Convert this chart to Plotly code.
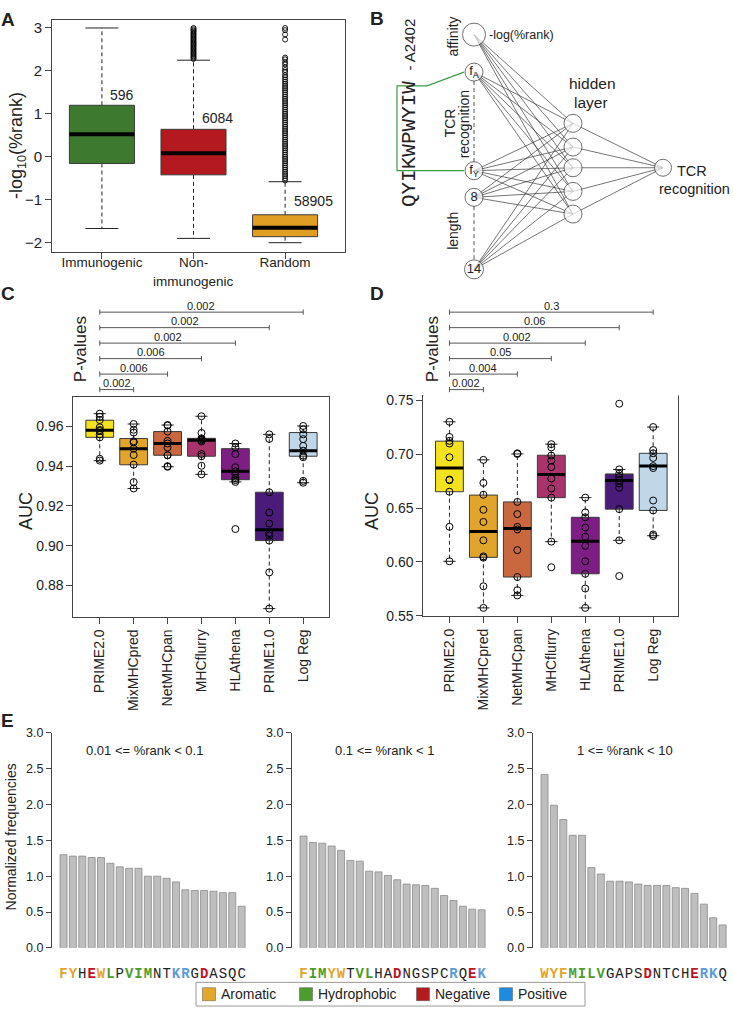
import plotly.graph_objects as go

W, H = 733, 1015
SANS = "Liberation Sans, Arial, Helvetica, sans-serif"
MONO = "Liberation Mono, Courier New, monospace"
INK = "#222222"

# ---------------- data ----------------
# A: -log10(%rank) of the three peptide sets
a_groups = ["Immunogenic", "Non-", "Random"]
a_counts = ["596", "6084", "58905"]
a_low = [-1.67, -1.90, -2.00]
a_q1 = [-0.155, -0.42, -1.86]
a_med = [0.527, 0.083, -1.655]
a_q3 = [1.20, 0.64, -1.35]
a_high = [3.00, 2.25, -0.58]
a_count_y = [1.445, 0.894, -1.035]
a_colors = ["#3D7A2F", "#B3191E", "#E09F24"]
a_out_nonimm = [2.28, 2.31, 2.34, 2.37, 2.40, 2.43, 2.46, 2.49, 2.52, 2.55, 2.58, 2.61, 2.64,
                2.67, 2.70, 2.73, 2.76, 2.79, 2.82, 2.85, 2.88, 2.91, 2.94, 2.97, 3.00]
a_out_random = [-0.55, -0.50, -0.45, -0.40, -0.35, -0.30, -0.25, -0.20, -0.15, -0.10, -0.05,
                0.00, 0.05, 0.10, 0.15, 0.20, 0.25, 0.30, 0.35, 0.40, 0.45, 0.50, 0.55, 0.60,
                0.65, 0.70, 0.75, 0.80, 0.85, 0.90, 0.95, 1.00, 1.05, 1.10, 1.15, 1.20, 1.25,
                1.30, 1.35, 1.40, 1.45, 1.50, 1.55, 1.60, 1.65, 1.70, 1.75, 1.80, 1.85, 1.90,
                1.97, 2.02, 2.08, 2.15, 2.20, 2.27, 2.31, 2.73, 2.85, 2.95, 3.00]

# C / D: AUC per method (10 folds each)
methods = ["PRIME2.0", "MixMHCpred", "NetMHCpan", "MHCflurry", "HLAthena", "PRIME1.0", "Log Reg"]
m_colors = ["#F3E21D", "#E1A52B", "#C9683E", "#A9346C", "#7E1E84", "#4A1B78", "#BFD7E8"]

c_low = [0.9428, 0.9288, 0.9397, 0.9359, 0.9321, 0.8684, 0.9317]
c_q1 = [0.9545, 0.9407, 0.9455, 0.9450, 0.9332, 0.9026, 0.9450]
c_med = [0.9580, 0.9488, 0.9514, 0.9530, 0.9374, 0.9081, 0.9478]
c_q3 = [0.9631, 0.9539, 0.9574, 0.9540, 0.9488, 0.9269, 0.9569]
c_high = [0.9664, 0.9612, 0.9607, 0.9651, 0.9514, 0.9560, 0.9602]
c_points = [
    [0.9664, 0.9648, 0.9632, 0.9595, 0.9582, 0.9577, 0.9560, 0.9545, 0.9437, 0.9428],
    [0.9612, 0.9583, 0.9569, 0.9525, 0.9519, 0.9488, 0.9456, 0.9408, 0.9320, 0.9288],
    [0.9607, 0.9604, 0.9574, 0.9527, 0.9514, 0.9494, 0.9455, 0.9455, 0.9400, 0.9397],
    [0.9651, 0.9567, 0.9540, 0.9535, 0.9530, 0.9524, 0.9461, 0.9450, 0.9402, 0.9359],
    [0.9514, 0.9494, 0.9461, 0.9395, 0.9374, 0.9359, 0.9340, 0.9330, 0.9321, 0.9084],
    [0.9560, 0.9537, 0.9269, 0.9167, 0.9111, 0.9064, 0.9051, 0.9026, 0.8866, 0.8684],
    [0.9602, 0.9585, 0.9560, 0.9536, 0.9502, 0.9478, 0.9453, 0.9445, 0.9326, 0.9317],
]
c_pvals = ["0.002", "0.006", "0.006", "0.002", "0.002", "0.002"]

d_low = [0.6005, 0.5572, 0.5688, 0.6188, 0.5572, 0.6200, 0.6243]
d_q1 = [0.6652, 0.6042, 0.5859, 0.6597, 0.5889, 0.6490, 0.6478]
d_med = [0.6872, 0.6283, 0.6310, 0.6811, 0.6191, 0.6756, 0.6890]
d_q3 = [0.7122, 0.6621, 0.6557, 0.6991, 0.6414, 0.6817, 0.7009]
d_high = [0.7302, 0.6948, 0.7003, 0.7094, 0.6597, 0.6859, 0.7253]
d_points = [
    [0.7302, 0.7161, 0.7125, 0.7100, 0.6972, 0.6765, 0.6759, 0.6652, 0.6326, 0.6005],
    [0.6948, 0.6734, 0.6624, 0.6484, 0.6371, 0.6200, 0.6051, 0.6039, 0.5773, 0.5572],
    [0.7009, 0.7003, 0.6557, 0.6444, 0.6325, 0.6301, 0.6109, 0.5859, 0.5737, 0.5688],
    [0.7094, 0.7064, 0.6988, 0.6942, 0.6881, 0.6774, 0.6682, 0.6597, 0.6188, 0.5950],
    [0.6597, 0.6460, 0.6414, 0.6319, 0.6234, 0.6149, 0.6005, 0.5889, 0.5752, 0.5572],
    [0.7470, 0.6859, 0.6820, 0.6789, 0.6759, 0.6728, 0.6689, 0.6490, 0.6200, 0.5868],
    [0.7253, 0.7039, 0.7009, 0.6966, 0.6890, 0.6872, 0.6570, 0.6478, 0.6255, 0.6240],
]
d_pvals = ["0.002", "0.004", "0.05", "0.002", "0.06", "0.3"]

# E: normalized amino-acid frequencies per %rank bin
e_titles = ["0.01 <= %rank < 0.1", "0.1 <= %rank < 1", "1 <= %rank < 10"]
e1_aa = list("FYHEWLPVIMNTKRGDASQC")
e1_freq = [1.30, 1.28, 1.28, 1.26, 1.26, 1.18, 1.13, 1.11, 1.11, 1.00,
           1.00, 0.97, 0.92, 0.81, 0.80, 0.80, 0.79, 0.77, 0.77, 0.58]
e2_aa = list("FIMYWTVLHADNGSPCRQEK")
e2_freq = [1.56, 1.47, 1.46, 1.42, 1.36, 1.22, 1.21, 1.07, 1.06, 1.01,
           0.95, 0.89, 0.88, 0.87, 0.83, 0.73, 0.66, 0.58, 0.54, 0.53]
e3_aa = list("WYFMILVGAPSDNTCHERKQ")
e3_freq = [2.42, 1.99, 1.79, 1.57, 1.57, 1.12, 1.03, 0.93, 0.93, 0.92,
           0.89, 0.87, 0.87, 0.87, 0.84, 0.83, 0.76, 0.61, 0.42, 0.32]

aa_classes = ["Aromatic", "Hydrophobic", "Negative", "Positive"]
aa_members = ["FWY", "ILMV", "DE", "KR"]
class_colors = ["#E3A82B", "#4E9B2E", "#B31B1E", "#1F8BE0"]
letter_colors = ["#E5A42A", "#4E9B2E", "#C0151F", "#5B9BDA"]


# ---------------- helpers ----------------
def px_x(a, b):
    return [a / W, b / W]


def px_y(top, bottom):
    return [1 - bottom / H, 1 - top / H]


fig = go.Figure()


def ptext(x, y, text, size, angle=0, family=SANS, xanchor="center"):
    fig.add_annotation(x=x / W, y=1 - y / H, xref="paper", yref="paper", text=text,
                       showarrow=False, textangle=angle, xanchor=xanchor, yanchor="middle",
                       font=dict(size=size, family=family, color=INK))


def add_box(xa, ya, pos, low, q1, med, q3, high, color, half, cap, med_w):
    common = dict(xaxis=xa, yaxis=ya, hoverinfo="skip", showlegend=False)
    fig.add_trace(go.Scatter(x=[pos, pos, None, pos, pos], y=[q3, high, None, q1, low],
                             mode="lines", line=dict(color=INK, width=1, dash="4px,3px"), **common))
    fig.add_trace(go.Scatter(x=[pos - cap, pos + cap, None, pos - cap, pos + cap],
                             y=[high, high, None, low, low],
                             mode="lines", line=dict(color=INK, width=1), **common))
    fig.add_trace(go.Scatter(x=[pos - half, pos + half, pos + half, pos - half, pos - half],
                             y=[q1, q1, q3, q3, q1], mode="lines", fill="toself",
                             fillcolor=color, line=dict(color="#3a3a3a", width=1), **common))
    fig.add_trace(go.Scatter(x=[pos - half, pos + half], y=[med, med], mode="lines",
                             line=dict(color="black", width=med_w), **common))


def add_pvals(xa, ya, pvals):
    xs, ys = [], []
    for k, p in enumerate(pvals, start=1):
        end = k + 1
        xs += [1, end, None, 1, 1, None, end, end, None]
        ys += [k, k, None, k - 0.17, k + 0.17, None, k - 0.17, k + 0.17, None]
        fig.add_annotation(x=(1 + end) / 2, y=k + 0.42, xref=xa, yref=ya, text=p,
                           showarrow=False, xanchor="center",
                           font=dict(size=11, color=INK))
    fig.add_trace(go.Scatter(x=xs, y=ys, mode="lines", line=dict(color="#555", width=1),
                             xaxis=xa, yaxis=ya, hoverinfo="skip", showlegend=False))


def aa_label(aa):
    for members, col in zip(aa_members, letter_colors):
        if aa in members:
            return f"<span style='color:{col}'><b>{aa}</b></span>"
    return aa


frame = dict(showline=True, linecolor="#444", linewidth=1, mirror=True, showgrid=False,
             zeroline=False, ticks="outside", tickcolor="#444", ticklen=6)
hidden = dict(visible=False, showgrid=False, zeroline=False)

# ---------------- A ----------------
for i in range(3):
    add_box("x", "y", i + 1, a_low[i], a_q1[i], a_med[i], a_q3[i], a_high[i],
            a_colors[i], 0.355, 0.18, 4)
for pos, vals in [(2, a_out_nonimm), (3, a_out_random)]:
    fig.add_trace(go.Scatter(x=[pos] * len(vals), y=vals, mode="markers",
                             marker=dict(symbol="circle-open", size=5, color="black",
                                         line=dict(width=0.9)),
                             xaxis="x", yaxis="y", hoverinfo="skip", showlegend=False))
for i, txt in enumerate(a_counts):
    fig.add_annotation(x=i + 1.07, y=a_count_y[i], xref="x", yref="y", text=txt,
                       showarrow=False, xanchor="left", font=dict(size=14, color=INK))
ptext(193, 278, "immunogenic", 13.5)

# ---------------- B (network diagram) ----------------
in_x, hid_x, out_x, out_y = 474, 573, 663, 163
in_y = [28, 66, 166, 193, 266]
in_lab = [" ", "f<sub>A</sub>", "f<sub>Y</sub>", "8", "14"]
in_size = [23, 18, 18, 18, 19]
hid_y = [118, 142, 163, 187, 210]

ex, ey = [], []
for yi in in_y:
    for yh in hid_y:
        ex += [in_x, hid_x, None]
        ey += [yi, yh, None]
for yh in hid_y:
    ex += [hid_x, out_x, None]
    ey += [yh, out_y, None]
bcommon = dict(xaxis="x2", yaxis="y2", hoverinfo="skip", showlegend=False)
fig.add_trace(go.Scatter(x=ex, y=ey, mode="lines", line=dict(color="#3a3a3a", width=0.7), **bcommon))
fig.add_trace(go.Scatter(x=[in_x, in_x, None, in_x, in_x], y=[75, 157, None, 202, 256],
                         mode="lines", line=dict(color="#555", width=1, dash="4px,3px"), **bcommon))
fig.add_trace(go.Scatter(x=[464, 427, 397, 397, 427, 464], y=[66, 80, 80, 166, 166, 166],
                         mode="lines", line=dict(color="#3E9B45", width=1.2), **bcommon))
fig.add_trace(go.Scatter(x=[in_x] * 5, y=in_y, mode="markers+text", text=in_lab,
                         textposition="middle center", textfont=dict(size=13, color=INK),
                         marker=dict(size=in_size, color="white", line=dict(color="#333", width=1)),
                         **bcommon))
fig.add_trace(go.Scatter(x=[hid_x] * 5 + [out_x], y=hid_y + [out_y], mode="markers",
                         marker=dict(size=[18] * 5 + [17], color="white",
                                     line=dict(color="#333", width=1)), **bcommon))


def btext(x, y, text, size, angle=0, family=SANS, xanchor="center"):
    fig.add_annotation(x=x, y=y, xref="x2", yref="y2", text=text, showarrow=False,
                       textangle=angle, xanchor=xanchor, yanchor="middle",
                       font=dict(size=size, family=family, color=INK))


btext(409, 139, "QYIKWPWYIW", 21, angle=-90, family=MONO)
btext(409, 38, "- A2402", 15, angle=-90)
btext(453, 30, "affinity", 14, angle=-90)
btext(450, 118, "TCR", 14, angle=-90)
btext(464, 119, "recognition", 14, angle=-90)
btext(453, 227, "length", 14, angle=-90)
btext(487, 28, "-log(%rank)", 12.5, xanchor="left")
btext(592, 78, "hidden", 15.5)
btext(591, 97, "layer", 15.5)
btext(692, 166, "TCR", 14.5)
btext(694, 185, "recognition", 14.5)

# ---------------- C and D ----------------
for xa, ya, lo, q1, me, q3, hi, pts in [
    ("x3", "y3", c_low, c_q1, c_med, c_q3, c_high, c_points),
    ("x5", "y5", d_low, d_q1, d_med, d_q3, d_high, d_points),
]:
    for i in range(7):
        add_box(xa, ya, i + 1, lo[i], q1[i], me[i], q3[i], hi[i], m_colors[i], 0.41, 0.18, 3)
    for i in range(7):
        fig.add_trace(go.Scatter(x=[i + 1] * len(pts[i]), y=pts[i], mode="markers",
                                 marker=dict(symbol="circle-open", size=7, color="black",
                                             line=dict(width=1)),
                                 xaxis=xa, yaxis=ya, hoverinfo="skip", showlegend=False))
add_pvals("x4", "y4", c_pvals)
add_pvals("x6", "y6", d_pvals)

# ---------------- E ----------------
e_sets = [(e1_aa, e1_freq), (e2_aa, e2_freq), (e3_aa, e3_freq)]
e_left = [52, 292, 533]
for j, (aa, freq) in enumerate(e_sets):
    n = j + 7
    fig.add_trace(go.Bar(x=list(range(len(aa))), y=freq, width=0.75,
                         marker=dict(color="#BEBEBE", line=dict(color="#8A8A8A", width=0.8)),
                         xaxis=f"x{n}", yaxis=f"y{n}", hoverinfo="skip", showlegend=False))
    ptext(e_left[j] + 92, 754, e_titles[j], 13)
    fig.update_layout({
        f"xaxis{n}": dict(domain=px_x(e_left[j], e_left[j] + 194), range=[-1.23, 19.47],
                          anchor=f"y{n}", showline=False, showgrid=False, zeroline=False,
                          tickvals=list(range(len(aa))), ticktext=[aa_label(a) for a in aa],
                          tickangle=0, ticks="outside", ticklen=12,
                          tickcolor="rgba(0,0,0,0)",
                          tickfont=dict(family=MONO, size=14, color=INK)),
        f"yaxis{n}": dict(domain=px_y(736, 954), range=[0, 3], anchor=f"x{n}",
                          showline=True, linecolor="#444", linewidth=1, showgrid=False,
                          zeroline=False, ticks="outside", ticklen=5, tickcolor="#444",
                          tickvals=[0, 0.5, 1, 1.5, 2, 2.5, 3], tickformat=".1f",
                          tickfont=dict(size=12.5, color=INK)),
    })

# legend for amino-acid classes
leg_x = [209, 306, 423, 506]
fig.add_trace(go.Scatter(x=leg_x, y=[1001] * 4, mode="markers",
                         marker=dict(symbol="square", size=13, color=class_colors,
                                     line=dict(color="#555", width=0.5)),
                         xaxis="x10", yaxis="y10", hoverinfo="skip", showlegend=False))
for xx, name in zip(leg_x, aa_classes):
    fig.add_annotation(x=xx + 10, y=1001, xref="x10", yref="y10", text=name, showarrow=False,
                       xanchor="left", font=dict(size=14, color=INK))
fig.add_shape(type="rect", x0=196, x1=585, y0=989, y1=1013, xref="x10", yref="y10",
              line=dict(color="#9A9A9A", width=1))

# ---------------- titles and panel letters ----------------
ptext(17, 141, "-log<sub>10</sub>(%rank)", 18, angle=-90)
ptext(26, 511, "AUC", 18, angle=-90)
ptext(372, 511, "AUC", 18, angle=-90)
ptext(80, 347, "P-values", 17, angle=-90)
ptext(432, 347, "P-values", 17, angle=-90)
ptext(11, 842, "Normalized frequencies", 14, angle=-90)
for letter, (lx, ly) in zip("ABCDE", [(8, 13), (377, 12), (8, 290), (377, 290), (7, 723)]):
    ptext(lx, ly, f"<b>{letter}</b>", 19)

fig.update_layout(
    width=W, height=H, autosize=False,
    margin=dict(l=0, r=0, t=0, b=0),
    paper_bgcolor="white", plot_bgcolor="white",
    showlegend=False,
    font=dict(family=SANS, color=INK, size=13),
    xaxis=dict(domain=px_x(52, 345), range=[0.455, 3.654], anchor="y",
               tickvals=[1, 2, 3], ticktext=a_groups, tickfont=dict(size=13.5),
               ticklabelstandoff=-8, **frame),
    yaxis=dict(domain=px_y(13, 248), range=[-2.207, 3.19], anchor="x",
               tickvals=[-2, -1, 0, 1, 2, 3], tickfont=dict(size=15), **frame),
    xaxis2=dict(domain=px_x(370, 733), range=[370, 733], anchor="y2", **hidden),
    yaxis2=dict(domain=px_y(0, 285), range=[285, 0], anchor="x2", **hidden),
    xaxis3=dict(domain=px_x(73.3, 329.3), range=[0.22, 7.77], anchor="y3",
                tickvals=list(range(1, 8)), ticktext=methods, tickangle=-90,
                tickfont=dict(size=14), **frame),
    yaxis3=dict(domain=px_y(395, 618.3), range=[0.8643, 0.975], anchor="x3",
                tickvals=[0.88, 0.90, 0.92, 0.94, 0.96], tickformat=".2f",
                tickfont=dict(size=14), **frame),
    xaxis4=dict(domain=px_x(73.3, 329.3), range=[0.22, 7.77], anchor="y4", **hidden),
    yaxis4=dict(domain=px_y(300, 395), range=[0.55, 6.6], anchor="x4", **hidden),
    xaxis5=dict(domain=px_x(423.3, 678.3), range=[0.23, 7.74], anchor="y5",
                tickvals=list(range(1, 8)), ticktext=methods, tickangle=-90,
                tickfont=dict(size=14), **frame),
    yaxis5=dict(domain=px_y(394.3, 617.7), range=[0.5495, 0.7543], anchor="x5",
                tickvals=[0.55, 0.60, 0.65, 0.70, 0.75], tickformat=".2f",
                tickfont=dict(size=14), **frame),
    xaxis6=dict(domain=px_x(423.3, 678.3), range=[0.23, 7.74], anchor="y6", **hidden),
    yaxis6=dict(domain=px_y(300, 395), range=[0.55, 6.6], anchor="x6", **hidden),
    xaxis10=dict(domain=px_x(190, 600), range=[190, 600], anchor="y10", **hidden),
    yaxis10=dict(domain=px_y(983, 1015), range=[1015, 983], anchor="x10", **hidden),
)

# the page body has a default 8px margin; drop it so the figure fills the window
fig.write_html("out.html", config={"displayModeBar": False},
               post_script="document.body.style.margin='0';document.body.style.overflow='hidden';")
